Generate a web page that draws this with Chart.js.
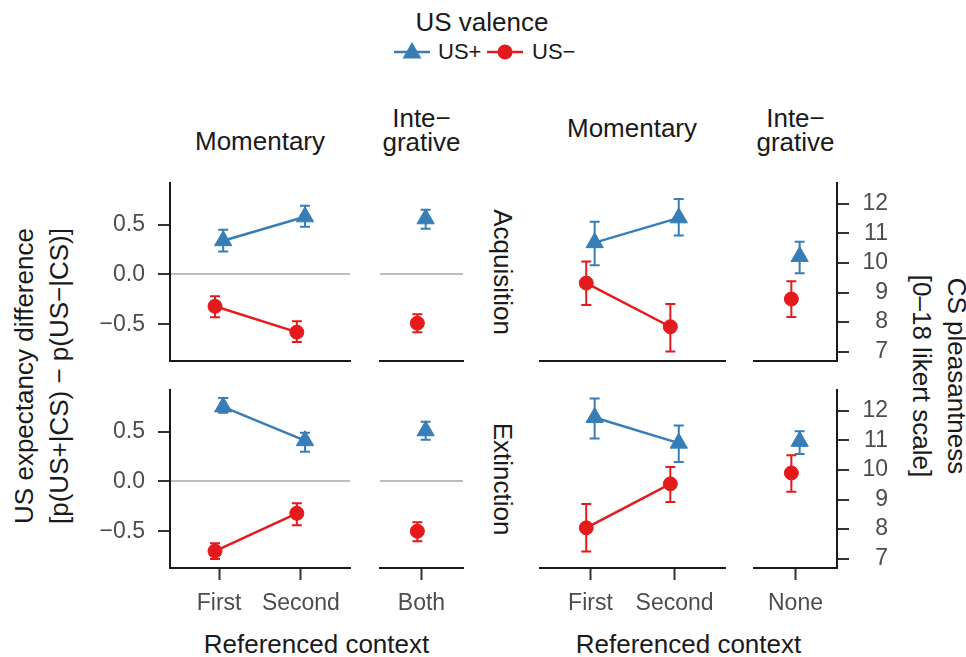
<!DOCTYPE html>
<html>
<head>
<meta charset="utf-8">
<script src="https://cdn.jsdelivr.net/npm/chart.js@4"></script>
<style>
  body { margin: 0; background: #fff; font-family: "Liberation Sans", Arial, sans-serif; }
  #fig { position: relative; width: 966px; height: 657px; overflow: hidden; }
  .panel { position: absolute; }
  .txt { position: absolute; white-space: nowrap; color: #1a1a1a; font-size: 26px; line-height: 1; transform: translate(-50%, -50%); text-align: center; }
  .two { line-height: 24px; }
  .rot-l { transform: translate(-50%, -50%) rotate(-90deg); line-height: 35px; }
  .rot-r { transform: translate(-50%, -50%) rotate(90deg); }
  .leg { position: absolute; white-space: nowrap; color: #1a1a1a; font-size: 22px; line-height: 1; transform: translateY(-50%); }
</style>
</head>
<body>
<div id="fig">
  <div class="txt" style="left:482px;top:22px">US valence</div>
  <svg class="leg" style="left:394px;top:52px" width="36" height="24">
    <line x1="0" y1="12" x2="36" y2="12" stroke="#377EB8" stroke-width="2.5"/>
    <polygon points="18,2 27.5,18.5 8.5,18.5" fill="#377EB8"/>
  </svg>
  <div class="leg" style="left:438px;top:52px">US+</div>
  <svg class="leg" style="left:487px;top:52px" width="36" height="24">
    <line x1="0" y1="12" x2="36" y2="12" stroke="#E41A1C" stroke-width="2.5"/>
    <circle cx="18" cy="12" r="7.5" fill="#E41A1C"/>
  </svg>
  <div class="leg" style="left:532px;top:52px">US−</div>

  <div class="txt" style="left:260px;top:141px">Momentary</div>
  <div class="txt two" style="left:421.5px;top:130px">Inte−<br>grative</div>
  <div class="txt" style="left:632px;top:128px">Momentary</div>
  <div class="txt two" style="left:795.5px;top:130px">Inte−<br>grative</div>
  <div class="txt rot-r" style="left:503px;top:272px">Acquisition</div>
  <div class="txt rot-r" style="left:503px;top:479px">Extinction</div>
  <div class="txt" style="left:316.5px;top:644px">Referenced context</div>
  <div class="txt" style="left:688.5px;top:644px">Referenced context</div>
  <div class="txt rot-l" style="left:41.5px;top:375.5px">US expectancy difference<br>[p(US+|CS) − p(US−|CS)]</div>
  <div class="txt rot-r" style="left:938.5px;top:375.5px;line-height:35px">CS pleasantness<br>[0–18 likert scale]</div>
</div>
<script>
const BLUE = "#377EB8"
const RED = "#E41A1C"

const contexts = ["First", "Second"]
const bothContext = ["Both"]
const noneContext = ["None"]

const expTicks = [-0.5, 0, 0.5]
const pleasTicks = [7, 8, 9, 10, 11, 12]

// US expectancy difference, momentary (First, Second)
const expAcqPos = [0.34, 0.58], expAcqPosLo = [0.23, 0.48], expAcqPosHi = [0.45, 0.69]
const expAcqNeg = [-0.32, -0.58], expAcqNegLo = [-0.43, -0.68], expAcqNegHi = [-0.22, -0.47]
const expExtPos = [0.75, 0.41], expExtPosLo = [0.69, 0.30], expExtPosHi = [0.84, 0.49]
const expExtNeg = [-0.70, -0.32], expExtNegLo = [-0.78, -0.44], expExtNegHi = [-0.62, -0.22]
// US expectancy difference, integrative (Both)
const expAcqIntPos = [0.56], expAcqIntPosLo = [0.46], expAcqIntPosHi = [0.65]
const expAcqIntNeg = [-0.49], expAcqIntNegLo = [-0.58], expAcqIntNegHi = [-0.40]
const expExtIntPos = [0.51], expExtIntPosLo = [0.42], expExtIntPosHi = [0.60]
const expExtIntNeg = [-0.50], expExtIntNegLo = [-0.60], expExtIntNegHi = [-0.41]

// CS pleasantness, momentary (First, Second)
const plAcqPos = [10.69, 11.53], plAcqPosLo = [9.92, 10.93], plAcqPosHi = [11.40, 12.17]
const plAcqNeg = [9.32, 7.84], plAcqNegLo = [8.58, 7.00], plAcqNegHi = [10.05, 8.61]
const plExtPos = [11.78, 10.91], plExtPosLo = [11.07, 10.27], plExtPosHi = [12.42, 11.51]
const plExtNeg = [8.04, 9.53], plExtNegLo = [7.24, 8.92], plExtNegHi = [8.85, 10.10]
// CS pleasantness, integrative (None)
const plAcqIntPos = [10.22], plAcqIntPosLo = [9.65], plAcqIntPosHi = [10.72]
const plAcqIntNeg = [8.78], plAcqIntNegLo = [8.17], plAcqIntNegHi = [9.38]
const plExtIntPos = [10.97], plExtIntPosLo = [10.54], plExtIntPosHi = [11.31]
const plExtIntNeg = [9.90], plExtIntNegLo = [9.26], plExtIntNegHi = [10.50]

const EXP_RANGE = [-0.87, 0.92]
const PL_RANGE = [6.68, 12.71]

const panels = [
  { x: 170, y: 183, w: 180, cats: contexts, range: EXP_RANGE, ticks: expTicks, axis: "left", zero: true, showX: false,
    pos: [expAcqPos, expAcqPosLo, expAcqPosHi], neg: [expAcqNeg, expAcqNegLo, expAcqNegHi] },
  { x: 380, y: 183, w: 83, cats: bothContext, range: EXP_RANGE, ticks: expTicks, axis: "none", zero: true, showX: false,
    pos: [expAcqIntPos, expAcqIntPosLo, expAcqIntPosHi], neg: [expAcqIntNeg, expAcqIntNegLo, expAcqIntNegHi] },
  { x: 540, y: 183, w: 185, cats: contexts, range: PL_RANGE, ticks: pleasTicks, axis: "none", zero: false, showX: false,
    pos: [plAcqPos, plAcqPosLo, plAcqPosHi], neg: [plAcqNeg, plAcqNegLo, plAcqNegHi] },
  { x: 754, y: 183, w: 83, cats: noneContext, range: PL_RANGE, ticks: pleasTicks, axis: "right", zero: false, showX: false,
    pos: [plAcqIntPos, plAcqIntPosLo, plAcqIntPosHi], neg: [plAcqIntNeg, plAcqIntNegLo, plAcqIntNegHi] },
  { x: 170, y: 390, w: 180, cats: contexts, range: EXP_RANGE, ticks: expTicks, axis: "left", zero: true, showX: true,
    pos: [expExtPos, expExtPosLo, expExtPosHi], neg: [expExtNeg, expExtNegLo, expExtNegHi] },
  { x: 380, y: 390, w: 83, cats: bothContext, range: EXP_RANGE, ticks: expTicks, axis: "none", zero: true, showX: true,
    pos: [expExtIntPos, expExtIntPosLo, expExtIntPosHi], neg: [expExtIntNeg, expExtIntNegLo, expExtIntNegHi] },
  { x: 540, y: 390, w: 185, cats: contexts, range: PL_RANGE, ticks: pleasTicks, axis: "none", zero: false, showX: true,
    pos: [plExtPos, plExtPosLo, plExtPosHi], neg: [plExtNeg, plExtNegLo, plExtNegHi] },
  { x: 754, y: 390, w: 83, cats: noneContext, range: PL_RANGE, ticks: pleasTicks, axis: "right", zero: false, showX: true,
    pos: [plExtIntPos, plExtIntPosLo, plExtIntPosHi], neg: [plExtIntNeg, plExtIntNegLo, plExtIntNegHi] }
]

const PANEL_H = 178
const PAD = 4
const LEFT_AXIS_W = 70
const RIGHT_AXIS_W = 51
const X_AXIS_H = 52

// draws the whiskers from the dataset's lo/hi arrays through the chart scales
const errorBars = {
  id: "errorBars",
  beforeDatasetsDraw(chart) {
    const { ctx, scales: { x, y } } = chart
    chart.data.datasets.forEach(ds => {
      ctx.save()
      ctx.strokeStyle = ds.borderColor
      ctx.lineWidth = 2
      ds.data.forEach((p, j) => {
        const px = x.getPixelForValue(p.x)
        const top = y.getPixelForValue(ds.hi[j])
        const bot = y.getPixelForValue(ds.lo[j])
        ctx.beginPath()
        ctx.moveTo(px, top)
        ctx.lineTo(px, bot)
        ctx.moveTo(px - 5, top)
        ctx.lineTo(px + 5, top)
        ctx.moveTo(px - 5, bot)
        ctx.lineTo(px + 5, bot)
        ctx.stroke()
      })
      ctx.restore()
    })
  }
}

function fmtExp(v) {
  return v.toFixed(1).replace("-", "\u2212")
}

// keep the plot area exactly where it is placed: no label overhang padding
function noPadding(s) {
  s.paddingTop = 0
  s.paddingBottom = 0
  s.paddingLeft = 0
  s.paddingRight = 0
}

function makeYScale(p) {
  const base = {
    min: p.range[0],
    max: p.range[1],
    afterBuildTicks: s => { s.ticks = p.ticks.map(v => ({ value: v })) }
  }
  const zeroColor = c => (p.zero && c.tick && c.tick.value === 0) ? "#bdbdbd" : "rgba(0,0,0,0)"
  if (p.axis === "left" || p.axis === "right") {
    return {
      ...base,
      position: p.axis,
      border: { display: true, color: "#1a1a1a", width: 2 },
      grid: { drawOnChartArea: p.zero, color: zeroColor, lineWidth: 2, tickColor: "#333", tickLength: 12, tickWidth: 2 },
      ticks: {
        color: "#4d4d4d",
        font: { size: 23, family: "Liberation Sans" },
        padding: 13,
        crossAlign: p.axis === "right" ? "far" : "near",
        callback: v => p.zero ? fmtExp(v) : String(v)
      },
      afterFit: s => {
        s.width = p.axis === "left" ? LEFT_AXIS_W : RIGHT_AXIS_W
        noPadding(s)
      }
    }
  }
  if (p.zero) {
    return {
      ...base,
      border: { display: false },
      grid: { drawTicks: false, color: zeroColor, lineWidth: 2 },
      ticks: { display: false },
      afterFit: s => {
        s.width = 0
        noPadding(s)
      }
    }
  }
  return { ...base, display: false }
}

function makeXScale(p) {
  return {
    type: "linear",
    min: 0.4,
    max: p.cats.length + 0.6,
    afterBuildTicks: s => { s.ticks = p.cats.map((c, i) => ({ value: i + 1 })) },
    border: { display: true, color: "#1a1a1a", width: 2 },
    grid: { drawOnChartArea: false, drawTicks: p.showX, tickLength: 12, tickWidth: 2, tickColor: "#333" },
    ticks: {
      display: p.showX,
      color: "#4d4d4d",
      font: { size: 23, family: "Liberation Sans" },
      padding: 10,
      maxRotation: 0,
      autoSkip: false,
      callback: v => p.cats[Math.round(v) - 1]
    },
    afterFit: s => {
      s.height = p.showX ? X_AXIS_H : PAD
      noPadding(s)
    }
  }
}

function makeSeries(label, arrs, shift, color, shape, radius) {
  return {
    label: label,
    data: arrs[0].map((v, i) => ({ x: i + 1 + shift, y: v })),
    lo: arrs[1],
    hi: arrs[2],
    borderColor: color,
    backgroundColor: color,
    borderWidth: 2.5,
    pointStyle: shape,
    pointRadius: radius,
    pointBorderWidth: 1,
    clip: false
  }
}

const fig = document.getElementById("fig")

panels.forEach(p => {
  const leftM = p.axis === "left" ? LEFT_AXIS_W : PAD
  const rightM = p.axis === "right" ? RIGHT_AXIS_W : PAD
  const bottomM = p.showX ? X_AXIS_H : PAD
  const box = document.createElement("div")
  box.className = "panel"
  box.style.left = (p.x - leftM) + "px"
  box.style.top = (p.y - PAD) + "px"
  const canvas = document.createElement("canvas")
  canvas.width = p.w + leftM + rightM
  canvas.height = PANEL_H + PAD + bottomM
  box.appendChild(canvas)
  fig.appendChild(box)

  const dodge = p.cats.length > 1 ? 0.05 : 0.06
  new Chart(canvas.getContext("2d"), {
    type: "line",
    data: {
      datasets: [
        makeSeries("US+", p.pos, dodge, BLUE, "triangle", 10),
        makeSeries("US\u2212", p.neg, -dodge, RED, "circle", 7)
      ]
    },
    options: {
      responsive: false,
      animation: false,
      devicePixelRatio: 1,
      layout: {
        autoPadding: false,
        padding: { top: PAD, left: p.axis === "left" ? 0 : PAD, right: p.axis === "right" ? 0 : PAD, bottom: 0 }
      },
      plugins: { legend: { display: false }, tooltip: { enabled: false } },
      scales: { x: makeXScale(p), y: makeYScale(p) }
    },
    plugins: [errorBars]
  })
})
</script>
</body>
</html>
